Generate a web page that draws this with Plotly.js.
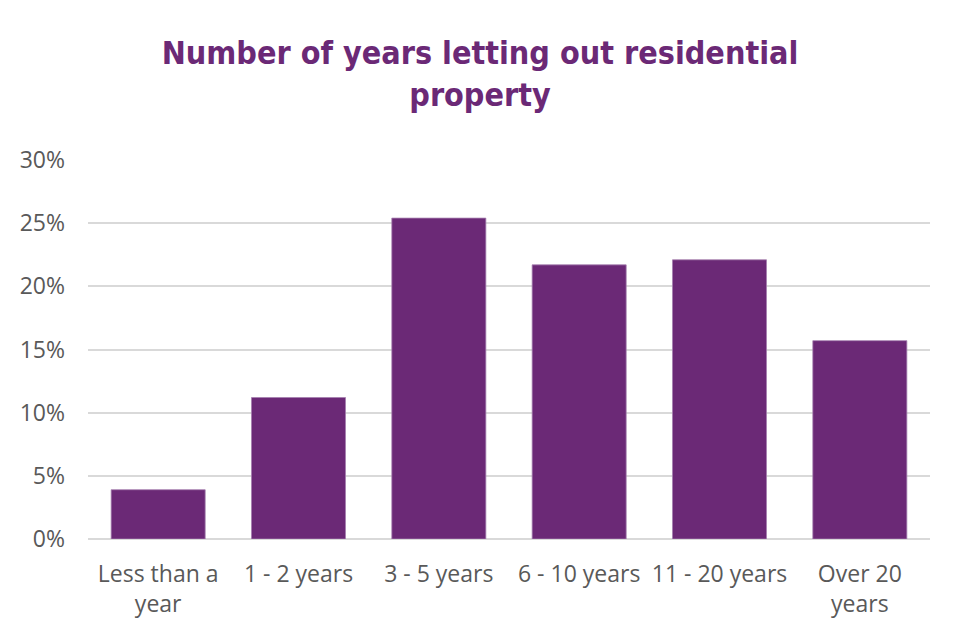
<!DOCTYPE html>
<html>
<head>
<meta charset="utf-8">
<script src="https://cdn.plot.ly/plotly-3.0.1.min.js"></script>
<style>html,body{margin:0;padding:0;background:#fff;}#chart{width:960px;height:640px;}</style>
</head>
<body>
<div id="chart"></div>
<script>
const categories = ["Less than a<br>year", "1 - 2 years", "3 - 5 years", "6 - 10 years", "11 - 20 years", "Over 20<br>years"];
const values = [0.039, 0.112, 0.254, 0.217, 0.221, 0.157];
const yTicks = [0, 0.05, 0.10, 0.15, 0.20, 0.25, 0.30];
const yTickLabels = ["0%", "5%", "10%", "15%", "20%", "25%", "30%"];
const titleText = "Number of years letting out residential<br>property";

const trace = {
  type: "bar",
  x: categories,
  y: values,
  marker: {color: "#6B2976", line: {color: "#A47FAE", width: 0.8}},
  hoverinfo: "x+y"
};

const layout = {
  width: 960, height: 640,
  margin: {l: 88, r: 30, t: 160, b: 101, pad: 0},
  paper_bgcolor: "#ffffff", plot_bgcolor: "#ffffff",
  bargap: 0.33,
  showlegend: false,
  title: {
    text: titleText,
    font: {family: "DejaVu Sans Condensed", size: 32, color: "#6B2976", weight: "bold"},
    x: 0.5, xanchor: "center",
    y: 1 - 64/640, yref: "container", yanchor: "top"
  },
  xaxis: {
    type: "category",
    tickfont: {family: "Open Sans", size: 23, color: "#595959"},
    ticks: "", showgrid: false, showline: false, zeroline: false,
    ticklabelstandoff: 19
  },
  yaxis: {
    range: [0, 0.30],
    tickvals: yTicks, ticktext: yTickLabels,
    tickfont: {family: "Open Sans", size: 23, color: "#595959"},
    ticks: "", showgrid: true, gridcolor: "#D9D9D9", gridwidth: 2,
    zeroline: true, zerolinecolor: "#D9D9D9", zerolinewidth: 2,
    showline: false, ticklabelstandoff: 22
  }
};

Plotly.newPlot("chart", [trace], layout, {displayModeBar: false, staticPlot: true});
</script>
</body>
</html>
